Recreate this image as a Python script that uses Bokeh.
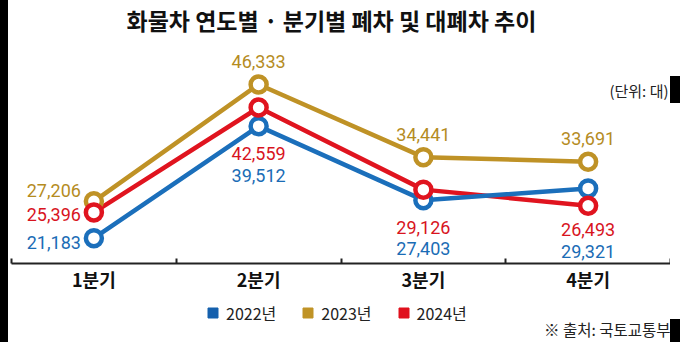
from bokeh.plotting import figure
from bokeh.models import Range1d, FixedTicker, ColumnDataSource, Legend, LegendItem, Label, Spacer
from bokeh.layouts import row, column
from bokeh.embed import file_html
from bokeh.resources import INLINE
from bokeh.core.properties import value

# ---- data ----
quarters = ["1분기", "2분기", "3분기", "4분기"]
years = ["2022년", "2023년", "2024년"]
v2022 = [21183, 39512, 27403, 29321]
v2023 = [27206, 46333, 34441, 33691]
v2024 = [25396, 42559, 29126, 26493]
title_text = "화물차 연도별 · 분기별 폐차 및 대폐차 추이"
unit_text = "(단위: 대)"
source_text = "※ 출처: 국토교통부"

# ---- styles ----
line_colors = {"2022년": "#1b6fbb", "2023년": "#bf9226", "2024년": "#e0141f"}
text_colors = {"2022년": "#1a6cb5", "2023년": "#b58c1f", "2024년": "#d8141e"}
legend_colors = {"2022년": "#1560ad", "2023년": "#c09326", "2024년": "#e0101d"}
KR = "Noto Sans CJK KR"
NUM = "Roboto"

series = {"2022년": v2022, "2023년": v2023, "2024년": v2024}
xs = [i + 0.5 for i in range(len(quarters))]


def strip(height):
    f = figure(width=662, height=height, x_range=Range1d(0, 1), y_range=Range1d(0, 1),
               x_axis_location=None, y_axis_location=None,
               output_backend="svg", toolbar_location=None,
               min_border_left=0, min_border_right=0, min_border_top=0, min_border_bottom=0,
               outline_line_color=None, background_fill_color="white", border_fill_color="white")
    f.grid.visible = False
    return f


# ---------------- title strip ----------------
t = strip(40)
t.add_layout(Label(x=115, y=21, x_units="screen", y_units="screen", text=title_text,
                   text_align="left", text_baseline="middle", text_font=KR,
                   text_font_size="23px", text_font_style="bold", text_color="#111111"))

# ---------------- main chart ----------------
p = figure(width=662, height=256, x_range=Range1d(0, len(quarters)),
           y_range=Range1d(17036, 53534), y_axis_location=None,
           output_backend="svg", toolbar_location=None,
           min_border_left=3, min_border_right=0, min_border_top=0, min_border_bottom=33,
           outline_line_color=None, background_fill_color="white", border_fill_color="white")
p.grid.visible = False

ax = p.xaxis[0]
ax.ticker = FixedTicker(ticks=xs, minor_ticks=list(range(len(quarters) + 1)))
ax.major_label_overrides = {x: q for x, q in zip(xs, quarters)}
ax.major_tick_line_color = None
ax.major_tick_in = 0
ax.major_tick_out = 0
ax.minor_tick_in = 5
ax.minor_tick_out = 0
ax.minor_tick_line_width = 2
ax.minor_tick_line_color = "#222222"
ax.axis_line_width = 2
ax.axis_line_color = "#222222"
ax.major_label_text_font = KR
ax.major_label_text_font_size = "18px"
ax.major_label_text_font_style = "bold"
ax.major_label_text_color = "#111111"
ax.major_label_standoff = 2

# lines (blue drawn over red)
for yr in ["2023년", "2024년", "2022년"]:
    src = ColumnDataSource(dict(x=xs, y=series[yr]))
    p.line("x", "y", source=src, line_color=line_colors[yr], line_width=4.5)

# circles (red on top)
for yr in ["2022년", "2023년", "2024년"]:
    src = ColumnDataSource(dict(x=xs, y=series[yr]))
    p.scatter("x", "y", source=src, marker="circle", size=16, fill_color="white",
              line_color=line_colors[yr], line_width=4.5)

# value labels
below1 = [0, 27, 27, 24]
below2 = [0, 49, 48, 46]
for yr in years:
    vals = series[yr]
    tx, ty, tt, xo, yo, al = [], [], [], [], [], []
    for i, v in enumerate(vals):
        tx.append(xs[i])
        tt.append(f"{v:,}")
        if i == 0:
            ty.append(v)
            xo.append(-13)
            yo.append({"2023년": -11, "2024년": 2, "2022년": 4}[yr])
            al.append("right")
        else:
            al.append("center")
            xo.append(0)
            if yr == "2023년":
                ty.append(v)
                yo.append(-23)
            else:
                lo = min(series["2022년"][i], series["2024년"][i])
                ty.append(lo)
                yo.append(below1[i] if yr == "2024년" else below2[i])
    src = ColumnDataSource(dict(x=tx, y=ty, t=tt, xo=xo, yo=yo, al=al))
    p.text("x", "y", text="t", source=src, x_offset="xo", y_offset="yo",
           text_align="al", text_baseline="middle", text_color=text_colors[yr],
           text_font=value(NUM), text_font_size="18px")

p.add_layout(Label(x=len(quarters), y=173, x_units="data", y_units="screen", text=unit_text,
                   x_offset=-2, text_align="right", text_baseline="middle",
                   text_font=KR, text_font_size="15px", text_color="#222222"))

# ---------------- legend + source strip ----------------
q = strip(46)
items = []
for yr in years:
    r = q.scatter(xs, series[yr], marker="square", size=10, fill_color=legend_colors[yr],
                  line_color=legend_colors[yr], visible=False)
    items.append(LegendItem(label=yr, renderers=[r]))
legend = Legend(items=items, orientation="horizontal", location=(189, 17),
                glyph_width=25, glyph_height=25, label_standoff=1, spacing=19,
                padding=0, margin=0, border_line_color=None, background_fill_alpha=0,
                label_text_font=KR, label_text_font_size="16px", label_text_color="#222222",
                label_text_baseline="middle")
q.add_layout(legend)
q.add_layout(Label(x=659, y=14, x_units="screen", y_units="screen", text=source_text,
                   text_align="right", text_baseline="middle",
                   text_font=KR, text_font_size="15.5px", text_color="#222222"))

left_bar = Spacer(width=8, height=342, margin=0, styles={"background-color": "#000000"})
right_bar = column(
    Spacer(width=10, height=76, margin=0, styles={"background-color": "#ffffff"}),
    Spacer(width=10, height=27, margin=0, styles={"background-color": "#000000"}),
    Spacer(width=10, height=216, margin=0, styles={"background-color": "#ffffff"}),
    Spacer(width=10, height=23, margin=0, styles={"background-color": "#000000"}),
    spacing=0, margin=0)
layout = row(left_bar, column(t, p, q, spacing=0, margin=0), right_bar, spacing=0, margin=0)

open("out.html", "w").write(file_html(layout, INLINE))
